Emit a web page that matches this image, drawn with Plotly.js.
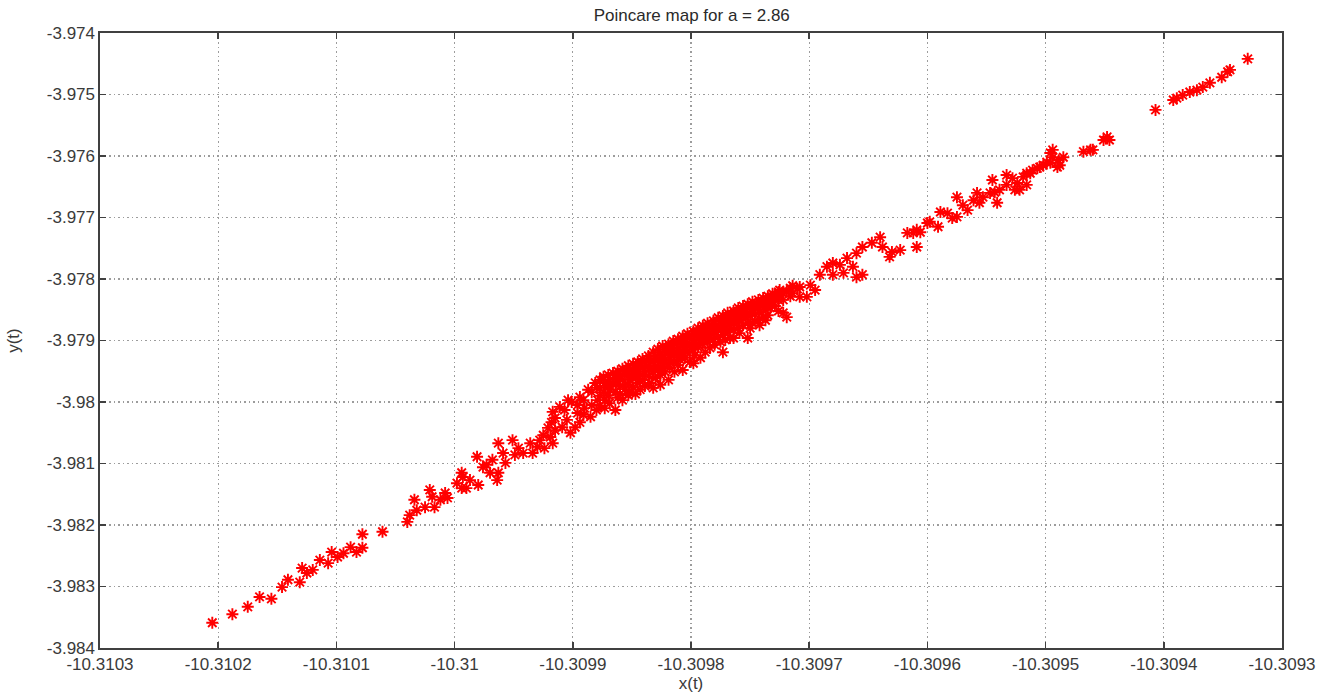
<!DOCTYPE html>
<html>
<head>
<meta charset="utf-8">
<script src="https://cdn.plot.ly/plotly-3.0.1.min.js"></script>
<style>
  html, body { margin: 0; padding: 0; background: #fff; }
  #chart { width: 1327px; height: 694px; }
</style>
</head>
<body>
<div id="chart"></div>
<script>
// Poincare section samples of the attractor, a = 2.86
const xPoints = [
  -10.310205, -10.310188, -10.310175, -10.310165, -10.310155, -10.310146, -10.310141, -10.310131,
  -10.310129, -10.310125, -10.310120, -10.310114, -10.310107, -10.310104, -10.310099, -10.310094,
  -10.310088, -10.310083, -10.310078, -10.310078, -10.310061, -10.310040, -10.310038, -10.310034,
  -10.310032, -10.310025, -10.310019, -10.310017, -10.310012, -10.310006, -10.310021, -10.310008,
  -10.309998, -10.309994, -10.309993, -10.309994, -10.309990, -10.309987, -10.309980, -10.309981,
  -10.309976, -10.309973, -10.309970, -10.309968, -10.309964, -10.309963, -10.309963, -10.309959,
  -10.309957, -10.309951, -10.309949, -10.309946, -10.309942, -10.309936, -10.309934, -10.309928,
  -10.309924, -10.309919, -10.309917, -10.309918, -10.309917, -10.309911, -10.309909, -10.309905,
  -10.309902, -10.309901, -10.309898, -10.309894, -10.309894, -10.309890, -10.309887, -10.309885,
  -10.309881, -10.309879, -10.309915, -10.309915, -10.309907, -10.309904, -10.309896, -10.309896,
  -10.309891, -10.309891, -10.309884, -10.309884, -10.309880, -10.309880, -10.309925, -10.309921, -10.309930,
  -10.309877, -10.309877, -10.309877, -10.309877,
  -10.309874, -10.309874,
  -10.309873, -10.309873, -10.309873,
  -10.309870, -10.309870, -10.309870,
  -10.309869, -10.309869, -10.309869,
  -10.309866, -10.309866,
  -10.309864, -10.309864, -10.309864,
  -10.309862, -10.309862, -10.309862,
  -10.309860, -10.309860, -10.309860,
  -10.309858, -10.309858, -10.309858,
  -10.309856, -10.309856,
  -10.309853, -10.309853, -10.309853, -10.309853,
  -10.309852, -10.309852, -10.309852,
  -10.309849, -10.309849, -10.309849,
  -10.309847, -10.309847, -10.309847,
  -10.309845, -10.309845, -10.309845,
  -10.309843, -10.309843, -10.309843,
  -10.309841, -10.309841, -10.309841,
  -10.309839, -10.309839, -10.309839,
  -10.309836, -10.309836, -10.309836,
  -10.309835, -10.309835, -10.309835,
  -10.309832, -10.309832, -10.309832, -10.309832,
  -10.309830, -10.309830, -10.309830,
  -10.309828, -10.309828, -10.309828,
  -10.309826, -10.309826, -10.309826, -10.309826,
  -10.309824, -10.309824, -10.309824,
  -10.309822, -10.309822, -10.309822,
  -10.309819, -10.309819, -10.309819, -10.309819,
  -10.309818, -10.309818, -10.309818,
  -10.309815, -10.309815, -10.309815,
  -10.309814, -10.309814, -10.309814,
  -10.309811, -10.309811, -10.309811, -10.309811,
  -10.309809, -10.309809, -10.309809,
  -10.309807, -10.309807, -10.309807, -10.309807,
  -10.309805, -10.309805, -10.309805,
  -10.309803, -10.309803, -10.309803,
  -10.309801, -10.309801, -10.309801,
  -10.309798, -10.309798, -10.309798, -10.309798,
  -10.309797, -10.309797, -10.309797,
  -10.309794, -10.309794, -10.309794,
  -10.309792, -10.309792, -10.309792,
  -10.309790, -10.309790, -10.309790,
  -10.309788, -10.309788, -10.309788,
  -10.309786, -10.309786, -10.309786,
  -10.309784, -10.309784, -10.309784,
  -10.309781, -10.309781, -10.309781,
  -10.309780, -10.309780, -10.309780,
  -10.309777, -10.309777, -10.309777,
  -10.309775, -10.309775, -10.309775,
  -10.309773, -10.309773, -10.309773, -10.309773,
  -10.309771, -10.309771, -10.309771,
  -10.309769, -10.309769, -10.309769,
  -10.309767, -10.309767, -10.309767,
  -10.309764, -10.309764, -10.309764, -10.309764,
  -10.309763, -10.309763,
  -10.309760, -10.309760, -10.309760,
  -10.309759, -10.309759, -10.309759,
  -10.309756, -10.309756, -10.309756,
  -10.309754, -10.309754,
  -10.309752, -10.309752, -10.309752, -10.309752,
  -10.309750, -10.309750, -10.309750,
  -10.309748, -10.309748, -10.309748,
  -10.309746, -10.309746,
  -10.309743, -10.309743, -10.309743,
  -10.309742, -10.309742, -10.309742,
  -10.309739, -10.309739, -10.309739,
  -10.309737, -10.309737, -10.309737,
  -10.309735, -10.309735, -10.309735,
  -10.309733, -10.309733,
  -10.309731, -10.309731, -10.309731,
  -10.309729, -10.309729,
  -10.309726, -10.309726, -10.309726,
  -10.309725, -10.309725,
  -10.309722, -10.309722, -10.309722,
  -10.309719, -10.309719,
  -10.309716, -10.309716,
  -10.309714, -10.309714,
  -10.309710,
  -10.309708, -10.309708,
  -10.309702, -10.309699, -10.309695,
  -10.309691, -10.309685, -10.309680, -10.309680, -10.309674, -10.309671, -10.309668, -10.309663,
  -10.309660, -10.309660, -10.309655, -10.309655, -10.309647, -10.309640, -10.309638, -10.309632,
  -10.309630, -10.309623, -10.309617, -10.309612, -10.309609, -10.309609, -10.309606, -10.309600,
  -10.309598, -10.309591, -10.309589, -10.309583, -10.309579, -10.309575, -10.309575, -10.309570,
  -10.309566, -10.309561, -10.309558, -10.309556, -10.309553, -10.309547, -10.309545, -10.309543,
  -10.309541, -10.309539, -10.309533, -10.309533, -10.309528, -10.309526, -10.309524, -10.309522,
  -10.309519, -10.309516, -10.309516, -10.309513, -10.309511, -10.309507, -10.309505, -10.309502,
  -10.309499, -10.309496, -10.309496, -10.309494, -10.309494, -10.309490, -10.309489, -10.309488,
  -10.309485, -10.309468, -10.309462, -10.309460, -10.309451, -10.309448, -10.309446, -10.309407,
  -10.309392, -10.309389, -10.309384, -10.309378, -10.309372, -10.309367, -10.309361, -10.309351,
  -10.309346, -10.309344, -10.309329
];

const yPoints = [
  -3.98359, -3.98345, -3.98333, -3.98317, -3.98320, -3.98301, -3.98289, -3.98293,
  -3.98270, -3.98278, -3.98273, -3.98257, -3.98262, -3.98244, -3.98252, -3.98246,
  -3.98236, -3.98244, -3.98237, -3.98215, -3.98211, -3.98195, -3.98184, -3.98159,
  -3.98176, -3.98171, -3.98154, -3.98171, -3.98159, -3.98156, -3.98143, -3.98148,
  -3.98132, -3.98115, -3.98122, -3.98140, -3.98140, -3.98127, -3.98135, -3.98089,
  -3.98106, -3.98102, -3.98115, -3.98094, -3.98127, -3.98067, -3.98115, -3.98083,
  -3.98099, -3.98062, -3.98086, -3.98075, -3.98083, -3.98067, -3.98083, -3.98062,
  -3.98075, -3.98057, -3.98067, -3.98033, -3.98016, -3.98008, -3.98041, -3.98029,
  -3.98050, -3.98000, -3.98041, -3.97992, -3.98033, -3.98010, -3.97980, -3.98024,
  -3.97969, -3.97997, -3.98026, -3.98046, -3.98013, -3.97997, -3.98005, -3.98018,
  -3.97997, -3.98021, -3.97984, -3.98005, -3.97977, -3.98013, -3.98054, -3.98042, -3.98073,
  -3.97964, -3.97977, -3.97990, -3.98006,
  -3.97959, -3.97984,
  -3.97969, -3.97997, -3.98010,
  -3.97956, -3.97974, -3.97989,
  -3.97964, -3.97980, -3.98002,
  -3.97953, -3.97971,
  -3.97961, -3.97984, -3.98013,
  -3.97950, -3.97966, -3.97993,
  -3.97956, -3.97974, -3.97987,
  -3.97946, -3.97964, -3.97997,
  -3.97951, -3.97979,
  -3.97941, -3.97958, -3.97971, -3.97989,
  -3.97948, -3.97964, -3.97984,
  -3.97938, -3.97954, -3.97976,
  -3.97945, -3.97961, -3.97987,
  -3.97935, -3.97950, -3.97969,
  -3.97940, -3.97956, -3.97980,
  -3.97930, -3.97945, -3.97964,
  -3.97935, -3.97951, -3.97974,
  -3.97925, -3.97941, -3.97958,
  -3.97930, -3.97946, -3.97969,
  -3.97919, -3.97935, -3.97951, -3.97977,
  -3.97925, -3.97941, -3.97961,
  -3.97914, -3.97930, -3.97948,
  -3.97920, -3.97935, -3.97956, -3.97972,
  -3.97909, -3.97925, -3.97943,
  -3.97915, -3.97932, -3.97951,
  -3.97906, -3.97920, -3.97938, -3.97964,
  -3.97911, -3.97927, -3.97945,
  -3.97901, -3.97917, -3.97935,
  -3.97906, -3.97922, -3.97951,
  -3.97898, -3.97912, -3.97928, -3.97940,
  -3.97902, -3.97917, -3.97932,
  -3.97893, -3.97907, -3.97924, -3.97948,
  -3.97898, -3.97912, -3.97928,
  -3.97889, -3.97904, -3.97919,
  -3.97894, -3.97909, -3.97935,
  -3.97885, -3.97899, -3.97915, -3.97937,
  -3.97889, -3.97904, -3.97924,
  -3.97880, -3.97894, -3.97911,
  -3.97885, -3.97899, -3.97928,
  -3.97876, -3.97889, -3.97906,
  -3.97881, -3.97896, -3.97919,
  -3.97872, -3.97886, -3.97902,
  -3.97876, -3.97891, -3.97912,
  -3.97868, -3.97881, -3.97898,
  -3.97873, -3.97886, -3.97907,
  -3.97863, -3.97878, -3.97894,
  -3.97868, -3.97883, -3.97902,
  -3.97860, -3.97873, -3.97891, -3.97919,
  -3.97865, -3.97880, -3.97899,
  -3.97855, -3.97870, -3.97886,
  -3.97860, -3.97875, -3.97896,
  -3.97852, -3.97867, -3.97883, -3.97896,
  -3.97857, -3.97872,
  -3.97847, -3.97862, -3.97880,
  -3.97852, -3.97867, -3.97888,
  -3.97844, -3.97859, -3.97875,
  -3.97849, -3.97863,
  -3.97841, -3.97855, -3.97872, -3.97896,
  -3.97846, -3.97860, -3.97880,
  -3.97837, -3.97850, -3.97872,
  -3.97842, -3.97857,
  -3.97834, -3.97847, -3.97867,
  -3.97839, -3.97854, -3.97875,
  -3.97831, -3.97844, -3.97862,
  -3.97836, -3.97850, -3.97867,
  -3.97828, -3.97841, -3.97859,
  -3.97833, -3.97847,
  -3.97824, -3.97837, -3.97829,
  -3.97829, -3.97844,
  -3.97821, -3.97834, -3.97852,
  -3.97826, -3.97818,
  -3.97823, -3.97834, -3.97855,
  -3.97820, -3.97862,
  -3.97815, -3.97828,
  -3.97811, -3.97823,
  -3.97816,
  -3.97813, -3.97829,
  -3.97829, -3.97810, -3.97818,
  -3.97793, -3.97780, -3.97774, -3.97793, -3.97777, -3.97790, -3.97766, -3.97780,
  -3.97758, -3.97797, -3.97748, -3.97793, -3.97741, -3.97732, -3.97748, -3.97764,
  -3.97756, -3.97753, -3.97725, -3.97725, -3.97720, -3.97748, -3.97724, -3.97709,
  -3.97707, -3.97715, -3.97691, -3.97693, -3.97701, -3.97699, -3.97667, -3.97680,
  -3.97688, -3.97672, -3.97660, -3.97676, -3.97667, -3.97660, -3.97639, -3.97659,
  -3.97676, -3.97655, -3.97631, -3.97647, -3.97636, -3.97655, -3.97644, -3.97655,
  -3.97634, -3.97628, -3.97647, -3.97628, -3.97623, -3.97620, -3.97618, -3.97615,
  -3.97610, -3.97595, -3.97611, -3.97590, -3.97602, -3.97618, -3.97607, -3.97615,
  -3.97602, -3.97593, -3.97590, -3.97590, -3.97574, -3.97569, -3.97574, -3.97525,
  -3.97509, -3.97506, -3.97501, -3.97496, -3.97493, -3.97488, -3.97481, -3.97472,
  -3.97463, -3.97460, -3.97442
];

// Axis ticks
const xTickValues = [-10.3103, -10.3102, -10.3101, -10.3100, -10.3099, -10.3098, -10.3097, -10.3096, -10.3095, -10.3094, -10.3093];
const xTickLabels = ['-10.3103', '-10.3102', '-10.3101', '-10.31', '-10.3099', '-10.3098', '-10.3097', '-10.3096', '-10.3095', '-10.3094', '-10.3093'];
const yTickValues = [-3.974, -3.975, -3.976, -3.977, -3.978, -3.979, -3.980, -3.981, -3.982, -3.983, -3.984];
const yTickLabels = ['-3.974', '-3.975', '-3.976', '-3.977', '-3.978', '-3.979', '-3.98', '-3.981', '-3.982', '-3.983', '-3.984'];

const baseFont = { family: 'Liberation Sans, Arial, sans-serif', size: 17, color: '#3a3a3a' };

const axisStyle = {
  showgrid: true,
  gridcolor: '#9c9c9c',
  gridwidth: 1.2,
  griddash: '1.5px,3px',
  zeroline: false,
  showline: true,
  linecolor: '#404040',
  linewidth: 1.6,
  mirror: 'ticks',
  ticks: 'inside',
  ticklen: 6,
  tickwidth: 1.6,
  tickcolor: '#404040',
  tickfont: baseFont,
  tickmode: 'array'
};

const trace = {
  type: 'scatter',
  mode: 'markers',
  x: xPoints,
  y: yPoints,
  marker: {
    symbol: 'asterisk-open',
    size: 10,
    color: '#ff0000',
    line: { color: '#ff0000', width: 1.9 }
  },
  hoverinfo: 'x+y'
};

const layout = {
  width: 1327,
  height: 694,
  margin: { l: 100, r: 45, t: 33, b: 46 },
  paper_bgcolor: '#ffffff',
  plot_bgcolor: '#ffffff',
  showlegend: false,
  font: baseFont,
  title: {
    text: 'Poincare map for a = 2.86',
    font: { family: 'Liberation Sans, Arial, sans-serif', size: 17, color: '#2a2a2a' },
    x: 0.5213,
    xanchor: 'center',
    y: 0.979,
    yanchor: 'middle',
    yref: 'container'
  },
  xaxis: Object.assign({}, axisStyle, {
    range: [-10.3103, -10.3093],
    tickvals: xTickValues,
    ticktext: xTickLabels,
    title: { text: 'x(t)', font: baseFont, standoff: 0 }
  }),
  yaxis: Object.assign({}, axisStyle, {
    range: [-3.984, -3.974],
    tickvals: yTickValues,
    ticktext: yTickLabels,
    title: { text: 'y(t)', font: baseFont, standoff: 23 }
  })
};

Plotly.newPlot('chart', [trace], layout, { displayModeBar: false, staticPlot: true });
</script>
</body>
</html>
